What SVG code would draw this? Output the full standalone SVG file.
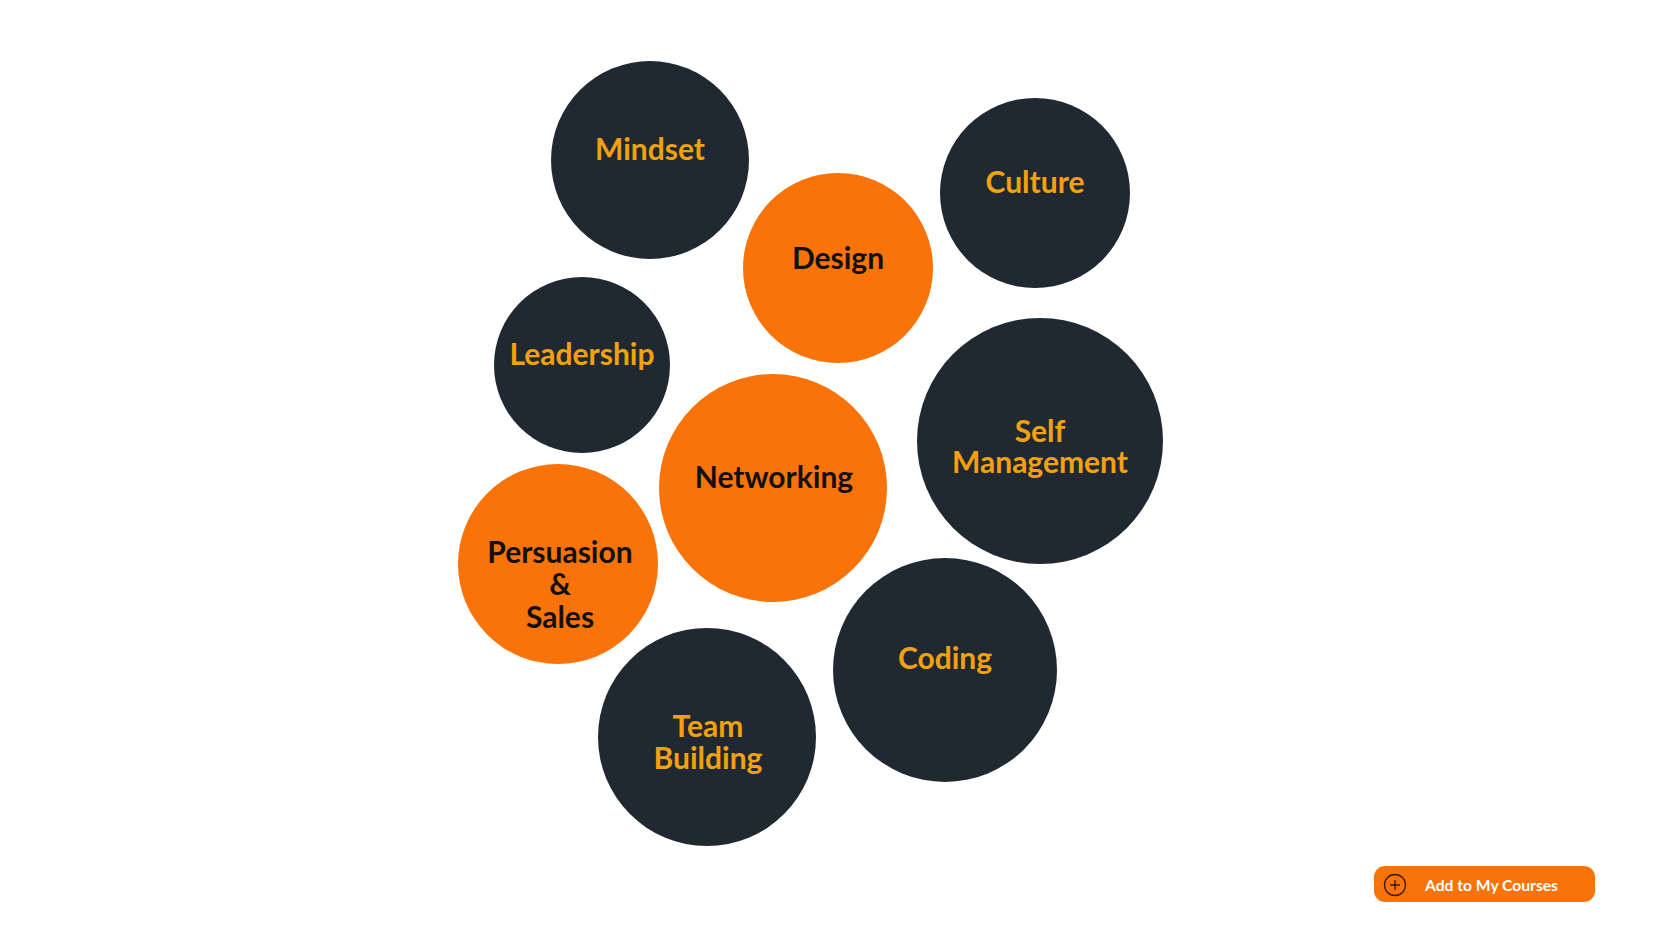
<svg xmlns="http://www.w3.org/2000/svg" width="1654" height="927" viewBox="0 0 1654 927">
<style>
.dark{fill:#202932}
.org{fill:#fa7309}
.t{font-family:Lato,"Liberation Sans",sans-serif;font-weight:bold;font-size:30px;text-anchor:middle}
.ty{fill:#f3a10e}
.tb{fill:#111111}
.btn{font-family:Lato,"Liberation Sans",sans-serif;font-weight:bold;font-size:16px;fill:#ffffff}
</style>
<rect width="1654" height="927" fill="#ffffff"/>
<g id="mindset"><circle class="dark" cx="650" cy="160" r="99"/><text class="t ty" x="650" y="160">Mindset</text></g>
<g id="culture"><circle class="dark" cx="1035" cy="193" r="95"/><text class="t ty" x="1035" y="193">Culture</text></g>
<g id="design"><circle class="org" cx="838" cy="268" r="95"/><text class="t tb" x="838" y="269">Design</text></g>
<g id="leadership"><circle class="dark" cx="582" cy="365" r="88"/><text class="t ty" x="582" y="365">Leadership</text></g>
<g id="self-management"><circle class="dark" cx="1040" cy="441" r="123"/><text class="t ty" x="1040" y="442">Self</text><text class="t ty" x="1040" y="473">Management</text></g>
<g id="networking"><circle class="org" cx="773" cy="488" r="114"/><text class="t tb" x="774" y="488">Networking</text></g>
<g id="persuasion"><circle class="org" cx="558" cy="564" r="100"/><text class="t tb" x="560" y="563">Persuasion</text><text class="t tb" x="560" y="595">&amp;</text><text class="t tb" x="560" y="628">Sales</text></g>
<g id="coding"><circle class="dark" cx="945" cy="670" r="112"/><text class="t ty" x="945" y="669">Coding</text></g>
<g id="team-building"><circle class="dark" cx="707" cy="737" r="109"/><text class="t ty" x="708" y="737">Team</text><text class="t ty" x="708" y="769">Building</text></g>
<g id="connectors"></g>
<g id="add-button">
<rect x="1374" y="866" width="221" height="36" rx="11" class="org"/>
<circle cx="1395" cy="885" r="10.5" fill="none" stroke="#3a1a05" stroke-width="1.3"/>
<path d="M1395 880v10M1390 885h10" stroke="#3a1a05" stroke-width="1.3"/>
<text class="btn" x="1425" y="891" textLength="133" lengthAdjust="spacingAndGlyphs">Add to My Courses</text>
</g>
</svg>
